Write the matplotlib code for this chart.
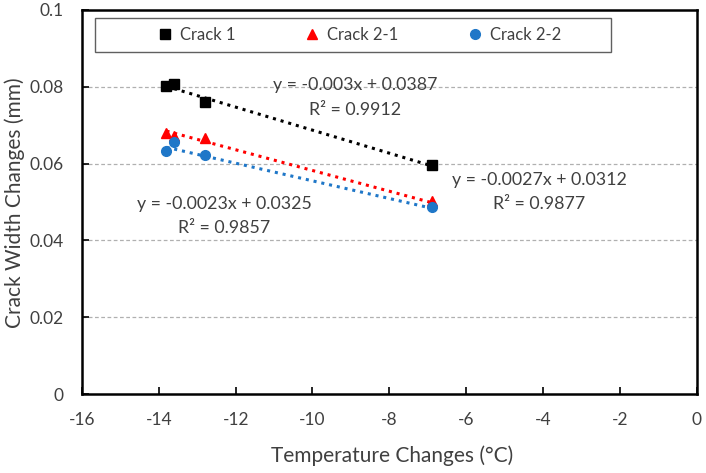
import numpy as np
import matplotlib.pyplot as plt
from matplotlib.patches import Rectangle

plt.rcParams['font.family'] = ['Lato', 'DejaVu Sans']
plt.rcParams['axes.unicode_minus'] = False

temp = [-13.8, -13.6, -12.8, -6.9]
crack1 = [0.0803, 0.0808, 0.0760, 0.0597]
crack21 = [0.0680, 0.0672, 0.0667, 0.0503]
crack22 = [0.0634, 0.0655, 0.0623, 0.0486]

names = ['Crack 1', 'Crack 2-1', 'Crack 2-2']
colors = ['black', '#ff0000', '#1f77c8']
markers = ['s', '^', 'o']
slopes = [-0.003, -0.0027, -0.0023]
intercepts = [0.0387, 0.0312, 0.0325]
r2 = [0.9912, 0.9877, 0.9857]

fig = plt.figure(figsize=(7.06, 4.73), dpi=100)
ax = fig.add_axes([0.116, 0.167, 0.871, 0.812])

txt = '#404040'
for yv in [0.02, 0.04, 0.06, 0.08]:
    ax.axhline(yv, color='#b0b0b0', lw=0.9, ls=(0, (3, 2)), zorder=0)

xs = np.array([min(temp), max(temp)])
for data, c, m, n, a, b in zip([crack1, crack21, crack22], colors, markers, names, slopes, intercepts):
    ax.plot(temp, data, ls='none', marker=m, color=c, ms=7.5 if m != 'o' else 7, label=n, zorder=3)
    ax.plot(xs, a * xs + b, ls=(0, (1, 1.6)), color=c, lw=2.2, zorder=2)

ax.set_xlim(-16, 0)
ax.set_ylim(0, 0.1)
ax.set_xticks(np.arange(-16, 1, 2))
ax.set_yticks([0, 0.02, 0.04, 0.06, 0.08, 0.1])
ax.set_yticklabels(['0', '0.02', '0.04', '0.06', '0.08', '0.1'])
ax.tick_params(direction='in', length=5, width=1.2, colors='black', labelcolor=txt, labelsize=12.5)
ax.tick_params(axis='x', pad=13)
ax.tick_params(axis='y', pad=13)
for s in ax.spines.values():
    s.set_linewidth(1.8)

ax.set_xlabel('Temperature Changes (°C)', fontsize=15, color=txt)
ax.set_ylabel('Crack Width Changes (mm)', fontsize=15, color=txt)
ax.xaxis.set_label_coords(0.504, -0.135)
ax.yaxis.set_label_coords(-0.093, 0.497)

# trendline labels
lbl = [(-8.9, 0.0805, 0.0740), (-4.1, 0.0556, 0.0496), (-12.3, 0.0494, 0.0432)]
for (x0, y1, y2), a, b, r in zip(lbl, slopes, intercepts, r2):
    ax.text(x0, y1, 'y = %gx + %g' % (a, b), ha='center', va='center', fontsize=12.8, color=txt)
    ax.text(x0, y2, 'R² = %g' % r, ha='center', va='center', fontsize=12.8, color=txt)

ax.add_patch(Rectangle((0.021, 0.891), 0.839, 0.088, transform=ax.transAxes, facecolor='white',
                       edgecolor='#606060', lw=1.0, zorder=4))
leg = ax.legend(loc='center', bbox_to_anchor=(0.452, 0.935), ncol=3, frameon=False,
                fontsize=12, handletextpad=0.5, handlelength=0.8, columnspacing=4.2,
                borderaxespad=0, labelcolor=txt)
leg.set_zorder(5)

fig.savefig('out.png', dpi=100)
